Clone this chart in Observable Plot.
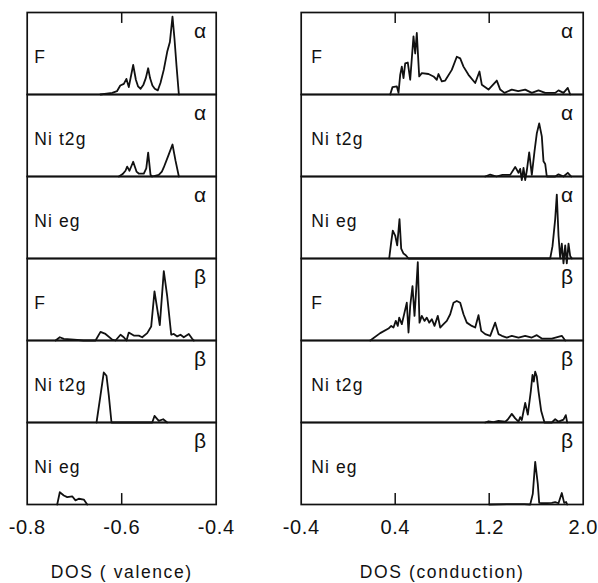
<!DOCTYPE html>
<html>
<head>
<meta charset="utf-8">
<script src="https://cdn.jsdelivr.net/npm/d3@7"></script>
<script src="https://cdn.jsdelivr.net/npm/@observablehq/plot@0.6"></script>
<style>
  body { margin: 0; background: #fff; }
  #wrap { position: relative; width: 598px; height: 583px; overflow: hidden; background: #fff; }
  #wrap svg { position: absolute; top: 0; overflow: visible; }
</style>
</head>
<body>
<div id="wrap"></div>
<script>
// ---------- panels ----------
const panels = ["F α", "Ni t2g α", "Ni eg α", "F β", "Ni t2g β", "Ni eg β"];
const panelNames = ["F", "Ni t2g", "Ni eg", "F", "Ni t2g", "Ni eg"];
const spins = ["α", "α", "α", "β", "β", "β"];

// ---------- axis ticks ----------
const valenceTicks = [-0.8, -0.6, -0.4];
const valenceInnerTicks = [-0.6];
const conductionTicks = [-0.4, 0.4, 1.2, 2.0];
const conductionInnerTicks = [0.4, 1.2];
const valenceTitle = "DOS ( valence)";
const conductionTitle = "DOS (conduction)";

// ---------- valence (left column) ----------
const vFAlphaX = [-0.645, -0.632, -0.62, -0.61, -0.603, -0.5955, -0.590, -0.585, -0.5757, -0.570, -0.5655, -0.560, -0.554, -0.549, -0.544, -0.540, -0.535, -0.530, -0.5236, -0.518, -0.511, -0.5037, -0.498, -0.4925, -0.4883, -0.484, -0.479];
const vFAlphaY = [0, 1, 2, 4, 11, 13, 19, 9, 36, 18, 10, 7, 12, 20, 32, 20, 11, 7, 5, 14, 30, 52, 64, 95, 68, 35, 0];

const vT2gAlphaX = [-0.606, -0.598, -0.592, -0.5884, -0.5835, -0.5757, -0.5687, -0.564, -0.5532, -0.548, -0.544, -0.539, -0.5355, -0.5215, -0.515, -0.511, -0.5003, -0.4925, -0.486, -0.479];
const vT2gAlphaY = [0, 3, 7, 12, 7, 18, 6, 3.6, 3.6, 10, 29, 2, 0, 2, 6, 11, 27, 39, 19, 0];

const vEgAlphaX = [];
const vEgAlphaY = [];

const vFBetaX = [-0.74, -0.731, -0.7225, -0.701, -0.681, -0.6554, -0.6449, -0.6343, -0.620, -0.6131, -0.6025, -0.5956, -0.5898, -0.585, -0.5744, -0.5638, -0.5566, -0.546, -0.5376, -0.5306, -0.5194, -0.5109, -0.5037, -0.4952, -0.4897, -0.4825, -0.4756, -0.4686, -0.458, -0.4508, -0.4474];
const vFBetaY = [0, 4, 2, 1, 0, 0, 10.5, 8, 1, 0, 7, 4, 0, 9.7, 6, 6, 4, 9, 17, 60, 18.7, 84.6, 54, 7, 8, 5, 7, 4, 8, 2, 0];

const vT2gBetaX = [-0.6533, -0.6449, -0.6379, -0.6322, -0.6273, -0.6216, -0.5354, -0.5306, -0.5215, -0.5122, -0.5037];
const vT2gBetaY = [0, 33, 61, 57, 33, 0, 0, 8, 2, 4, 0];

const vEgBetaX = [-0.7365, -0.731, -0.7225, -0.7153, -0.7048, -0.6978, -0.6908, -0.6802, -0.673];
const vEgBetaY = [0, 15, 11, 9, 10, 5, 7, 6, 0];

// ---------- conduction (right column) ----------
const cFAlphaX = [0.3574, 0.377, 0.4136, 0.428, 0.4426, 0.4562, 0.4706, 0.4851, 0.5072, 0.5277, 0.5557, 0.5702, 0.5838, 0.6043, 0.6264, 0.6834, 0.7260, 0.7540, 0.7685, 0.7966, 0.8255, 0.8817, 0.9243, 0.9532, 0.9813, 1.0238, 1.0809, 1.1174, 1.137, 1.194, 1.2647, 1.2936, 1.330, 1.3923, 1.4468, 1.5064, 1.5626, 1.6196, 1.6766, 1.7617, 1.7898, 1.8323, 1.8689, 1.8894];
const cFAlphaY = [0, 9, 10, 2, 24, 34, 20, 38, 39, 18, 71, 50, 75, 22, 26, 25, 22, 18, 25, 16, 17, 30, 46, 44, 34, 24, 14, 28, 12, 6, 17, 6, 2, 6, 4, 6, 2, 5, 2, 2, 5, 2, 8, 0];

const cT2gAlphaX = [1.166, 1.2085, 1.262, 1.313, 1.3787, 1.4213, 1.4494, 1.4638, 1.4774, 1.4919, 1.5064, 1.52, 1.5404, 1.5626, 1.5855, 1.6051, 1.6255, 1.6477, 1.6621, 1.6766, 1.6902, 1.7617, 1.7898, 1.8323, 1.8689, 1.8979];
const cT2gAlphaY = [0, 2.4, 0, 2, 2, 11.7, 4.5, 9.3, -4.3, 10.5, -4.3, 7, 29.4, 2, 30.6, 52.6, 64.7, 49, 18.5, 15.3, 0, 0, 2.6, 0, 4.5, 0];

const cEgAlphaX = [0.3489, 0.366, 0.3796, 0.40, 0.417, 0.4366, 0.451, 0.4706, 0.4902, 0.5132, 1.719, 1.7387, 1.7617, 1.7753, 1.7898, 1.8043, 1.8179, 1.8323, 1.8468, 1.8604, 1.8749, 1.8894, 1.903];
const cEgAlphaY = [0, 20, 34, 28, 16, 48, 12, 6, 4, 0, 0, 15, 48, 78, 28, 0, 18, -6, 16, -6, 18, 3, 0];

const cFBetaX = [0.1872, 0.2723, 0.343, 0.366, 0.3855, 0.4051, 0.422, 0.434, 0.4562, 0.4791, 0.4987, 0.5132, 0.5277, 0.5472, 0.5643, 0.5753, 0.5923, 0.6068, 0.6264, 0.6494, 0.6689, 0.6894, 0.7115, 0.7345, 0.7626, 0.783, 0.8111, 0.8391, 0.8681, 0.8962, 0.9243, 0.9532, 0.9813, 1.0094, 1.0519, 1.0809, 1.1089, 1.1319, 1.166, 1.2085, 1.251, 1.2791, 1.3072, 1.3498, 1.3923, 1.4494, 1.5064, 1.5626, 1.6051, 1.6477, 1.7328, 1.8179, 1.8468];
const cFBetaY = [0, 9, 14.6, 17.8, 15.8, 23.9, 17.8, 27.9, 19.9, 34, 46.1, 9.7, 42.1, 66.4, 30, 54.1, 95.5, 21.8, 30, 23.9, 27.9, 21.8, 26, 17.8, 30, 15.8, 19.9, 23.9, 32, 46.1, 48.2, 46.1, 32, 21.8, 17.8, 15.8, 30.8, 11.8, 7.8, 5.7, 21.8, 7.8, 5.7, 3.6, 5.7, 3.6, 5.7, 3.6, 6.5, 2.4, 2.4, 5.7, 0];

const cT2gBetaX = [1.166, 1.194, 1.2366, 1.279, 1.3362, 1.3583, 1.3923, 1.4213, 1.4494, 1.4638, 1.4774, 1.5064, 1.5285, 1.554, 1.5685, 1.5796, 1.5915, 1.6051, 1.6196, 1.6426, 1.6706, 1.7328, 1.7617, 1.7898, 1.8323, 1.8519, 1.8638];
const cT2gBetaY = [0, 1.5, 0.5, 2, 1, 3.6, 10.5, 5, 1, 6.5, 3, 24, 9.7, 38, 58, 50, 62, 56, 38, 14, 0, 0, 4, 1, 3.6, 9, 0];

const cEgBetaX = [1.2, 1.35, 1.5, 1.549, 1.571, 1.5915, 1.6136, 1.6255, 1.662, 1.7328, 1.7617, 1.7898, 1.8179, 1.838, 1.855, 1.8638];
const cEgBetaY = [0, 0.5, 0.5, 0, 13, 52, 25, 2, 1.5, 2, 3, 1.5, 14, 2, 3, 0];

// ---------- build tables ----------
function table(seriesX, seriesY) {
  const rows = [];
  panels.forEach((p, i) => {
    seriesX[i].forEach((x, j) => rows.push({panel: p, x, y: seriesY[i][j]}));
  });
  return rows;
}
const valenceData = table(
  [vFAlphaX, vT2gAlphaX, vEgAlphaX, vFBetaX, vT2gBetaX, vEgBetaX],
  [vFAlphaY, vT2gAlphaY, vEgAlphaY, vFBetaY, vT2gBetaY, vEgBetaY]);
const conductionData = table(
  [cFAlphaX, cT2gAlphaX, cEgAlphaX, cFBetaX, cT2gBetaX, cEgBetaX],
  [cFAlphaY, cT2gAlphaY, cEgAlphaY, cFBetaY, cT2gBetaY, cEgBetaY]);
const labelData = panels.map((p, i) => ({panel: p, name: panelNames[i], spin: spins[i]}));

const PANEL_H = (583 - 10.7 - 77.3) / panels.length;
const TICK_FRAC = 100 * 11 / PANEL_H;   // inner tick length, as a share of the panel's y domain

function column({data, domain, ticks, innerTicks, title, width, marginLeft, marginRight, labelDx}) {
  const topTicks = innerTicks.map(x => ({x, panel: panels[0], y1: 100, y2: 100 - TICK_FRAC}));
  const bottomTicks = innerTicks.map(x => ({x, panel: panels[panels.length - 1], y1: 0, y2: TICK_FRAC}));
  const svg = Plot.plot({
    width, height: 583,
    marginTop: 10.7, marginBottom: 77.3, marginLeft, marginRight,
    x: {domain},
    y: {domain: [0, 100], axis: null},
    fy: {domain: panels, padding: 0, axis: null},
    style: {fontFamily: "'Liberation Sans', Arial, Helvetica, sans-serif", color: "#111", background: "transparent"},
    marks: [
      Plot.frame({stroke: "#111", strokeWidth: 1.7}),
      Plot.ruleX(topTicks.concat(bottomTicks), {x: "x", y1: "y1", y2: "y2", fy: "panel", stroke: "#111", strokeWidth: 1.5}),
      Plot.line(data, {x: "x", y: "y", fy: "panel", stroke: "#111", strokeWidth: 1.8, strokeLinejoin: "round"}),
      Plot.text(labelData, {fy: "panel", text: "name", frameAnchor: "left", textAnchor: "start", dx: labelDx, dy: 4, fontSize: 17.5, fill: "#111"}),
      Plot.text(labelData, {fy: "panel", text: "spin", frameAnchor: "top-right", textAnchor: "end", lineAnchor: "top", dx: -10, dy: 10.5, fontSize: 21, fill: "#111"}),
      Plot.axisX({anchor: "bottom", ticks, tickSize: 0, tickPadding: 15, tickFormat: d => d.toFixed(1), fontSize: 20, fill: "#111", label: null}),
      Plot.text([{panel: panels[5], t: title}], {fy: "panel", text: "t", frameAnchor: "bottom", lineAnchor: "bottom", dy: 73.5, fontSize: 17.5, fill: "#111"})
    ]
  });
  // letter spacing to mimic the wide scanned lettering
  d3.select(svg).selectAll("text").each(function () {
    const t = this.textContent;
    if (panelNames.includes(t)) this.style.letterSpacing = "1.1px";
    else if (t === title) this.style.letterSpacing = "1.6px";
    else if (/^-?\d/.test(t)) this.style.letterSpacing = "0.6px";
  });
  return svg;
}

const wrap = document.getElementById("wrap");
const left = column({data: valenceData, domain: [-0.8, -0.4], ticks: valenceTicks, innerTicks: valenceInnerTicks, title: valenceTitle, width: 240, marginLeft: 26.7, marginRight: 24.3, labelDx: 7});
left.style.left = "0px";
wrap.appendChild(left);
const right = column({data: conductionData, domain: [-0.4, 2.0], ticks: conductionTicks, innerTicks: conductionInnerTicks, title: conductionTitle, width: 328, marginLeft: 30.7, marginRight: 15.3, labelDx: 10});
right.style.left = "270px";
wrap.appendChild(right);
</script>
</body>
</html>
